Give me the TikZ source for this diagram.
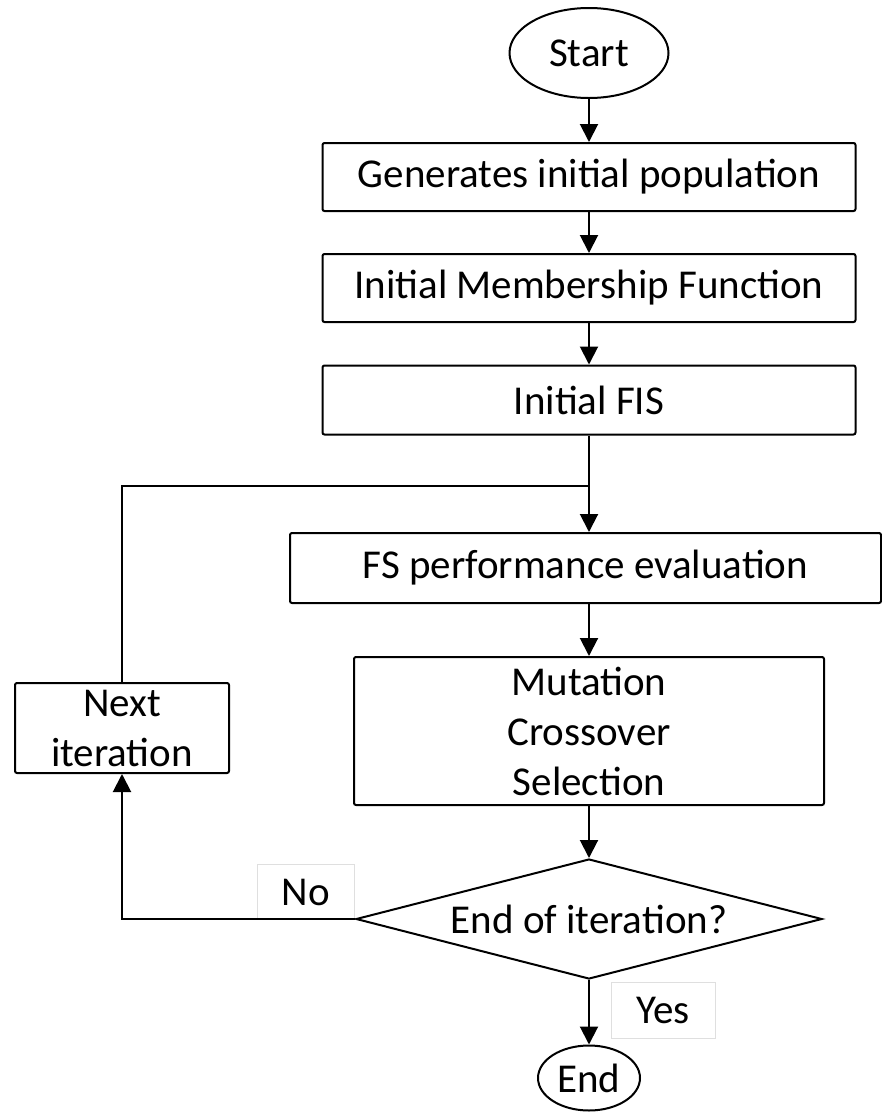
\documentclass[tikz,border=0pt]{standalone}
\usepackage{fontspec}
\setmainfont{Carlito}
\usetikzlibrary{shapes.geometric,arrows.meta}

\tikzset{
	stepbox/.style={draw, rectangle, rounded corners=2pt, inner sep=0pt, align=center, minimum height=68pt},
	endbox/.style={draw, ellipse, inner sep=0pt},
	tagbox/.style={draw=gray!25, line width=1pt, inner sep=0pt},
	arrow/.style={-{Triangle[width=18pt,length=18pt]}}
}

\begin{document}
\begin{tikzpicture}[x=1pt, y=-1pt, line width=2pt, font=\fontsize{41}{50}\selectfont]

	\useasboundingbox (0,0) rectangle (882,1112);

	% Inicio y pasos iniciales
	\node[endbox, minimum width=159pt, minimum height=90pt] (start) at (589,53) {Start};
	\node[stepbox, minimum width=533pt] (gen) at (589,177) {Generates initial population};
	\node[stepbox, minimum width=533pt] (imf) at (589,288) {Initial Membership Function};
	\node[stepbox, minimum width=533pt, minimum height=69pt] (fis) at (589,400) {Initial FIS};

	% Bucle principal
	\coordinate (junc) at (589,486);
	\node[stepbox, minimum width=591pt, minimum height=70pt] (eval) at (585.5,568) {FS performance evaluation};
	\node[stepbox, minimum width=470pt, minimum height=148pt] (ops) at (589,731) {Mutation\\Crossover\\Selection};
	\node[draw, diamond, shape aspect=3.9, inner sep=0pt, minimum width=466pt, minimum height=120pt] (stop) at (589,919) {End of iteration?};
	\node[stepbox, minimum width=214pt, minimum height=90pt] (next) at (122,728) {Next\\iteration};

	% Fin
	\node[endbox, minimum width=102pt, minimum height=65pt] (end) at (589,1078) {End};

	% Etiquetas
	\node[tagbox, minimum width=97pt, minimum height=55pt] (no) at (306,892) {No};
	\node[tagbox, minimum width=104pt, minimum height=56pt] (yes) at (663,1010) {Yes};

	% Conexiones
	\draw[arrow] (start) -- (gen);
	\draw[arrow] (gen) -- (imf);
	\draw[arrow] (imf) -- (fis);
	\draw[arrow] (fis.south) -- (fis.south |- eval.north);
	\draw[arrow] (ops.north |- eval.south) -- (ops.north);
	\draw[arrow] (ops.south) -- (stop.north);
	\draw[arrow] (stop.south) -- (end.north);
	\draw[arrow] (stop.west) -| (next.south);
	\draw (next.north) |- (junc);

\end{tikzpicture}
\end{document}
